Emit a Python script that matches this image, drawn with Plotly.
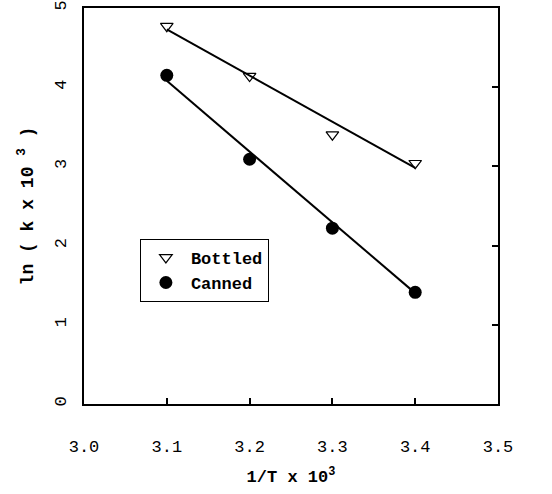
import plotly.graph_objects as go

# Data
inv_T = [3.1, 3.2, 3.3, 3.4]
bottled = [4.77, 4.14, 3.40, 3.04]
canned = [4.15, 3.09, 2.22, 1.41]

fit_x = [3.1, 3.4]
bottled_fit = [4.73, 2.98]
canned_fit = [4.08, 1.40]

x_ticks = [3.0, 3.1, 3.2, 3.3, 3.4, 3.5]
x_tick_text = ["3.0", "3.1", "3.2", "3.3", "3.4", "3.5"]
y_ticks = [0, 1, 2, 3, 4, 5]
y_tick_text = ["0", "1", "2", "3", "4", "5"]

FONT = "Liberation Mono, Courier New, monospace"

fig = go.Figure()
fig.add_trace(go.Scatter(x=fit_x, y=bottled_fit, mode="lines",
                         line=dict(color="black", width=2), showlegend=False,
                         hoverinfo="skip"))
fig.add_trace(go.Scatter(x=fit_x, y=canned_fit, mode="lines",
                         line=dict(color="black", width=2), showlegend=False,
                         hoverinfo="skip"))
fig.add_trace(go.Scatter(x=inv_T, y=bottled, mode="markers", name="Bottled",
                         marker=dict(symbol="triangle-down-open", size=11,
                                     color="black", line=dict(width=1.2))))
fig.add_trace(go.Scatter(x=inv_T, y=canned, mode="markers", name="Canned",
                         marker=dict(symbol="circle", size=13, color="black")))
# invisible carrier so the right-hand tick axis is drawn
fig.add_trace(go.Scatter(x=inv_T, y=canned, mode="markers", yaxis="y2",
                         marker=dict(opacity=0), showlegend=False, hoverinfo="skip"))

fig.update_layout(
    width=552, height=494,
    margin=dict(l=84, r=54, t=8, b=90),
    plot_bgcolor="white", paper_bgcolor="white",
    font=dict(family=FONT, size=17, color="black"),
    xaxis=dict(range=[3.0, 3.5], tickvals=x_ticks, ticktext=x_tick_text,
               ticks="inside", ticklen=6, tickcolor="black", tickwidth=1.5,
               showline=True, linecolor="black", linewidth=2, mirror=True,
               showgrid=False, zeroline=False, ticklabelstandoff=26,
               automargin=False,
               title=dict(text="<b>1/T x 10<sup>3</sup></b>", standoff=14,
                          font=dict(size=17))),
    yaxis=dict(range=[0, 5], tickvals=y_ticks, ticktext=y_tick_text,
               tickangle=-90, ticks="", showline=True, linecolor="black",
               linewidth=2, mirror=True, showgrid=False, zeroline=False,
               ticklabelstandoff=9, automargin=False,
               title=dict(text="<b>ln ( k x 10 <sup>3</sup> )</b>", standoff=14,
                          font=dict(size=18))),
    yaxis2=dict(range=[0, 5], overlaying="y", side="right", tickvals=[1, 2, 3, 4],
                ticks="inside", ticklen=6, tickcolor="black", tickwidth=1.5,
                showticklabels=False, showgrid=False, zeroline=False, showline=False,
                automargin=False),
    legend=dict(x=0.135, y=0.417, xanchor="left", yanchor="top",
                bordercolor="black", borderwidth=1, bgcolor="white",
                font=dict(family=FONT, size=17, weight="bold"), itemwidth=40),
)

fig.write_html("out.html", config={"displayModeBar": False},
               post_script="document.body.style.margin='0';")
